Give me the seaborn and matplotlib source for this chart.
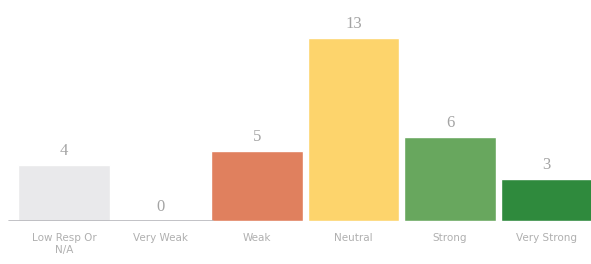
import pandas as pd
import seaborn as sns
import matplotlib.pyplot as plt

categories = ["Low Resp Or\nN/A", "Very Weak", "Weak", "Neutral", "Strong", "Very Strong"]
counts = [4, 0, 5, 13, 6, 3]
colors = ["#e9e9eb", "#d9d9db", "#e0805e", "#fdd46c", "#68a75e", "#2f8a3d"]

df = pd.DataFrame({"Category": categories, "Count": counts})

sns.set_style("white")
fig = plt.figure(figsize=(5.91, 2.64), dpi=100)
ax = fig.add_axes([0, 0.163, 1, 0.837])

sns.barplot(data=df, x="Category", y="Count", hue="Category", palette=colors,
            legend=False, width=0.95, ax=ax, saturation=1)

# value labels above each bar
for c in ax.containers:
    ax.bar_label(c, padding=4, color="#a4a4a4", fontsize=12, family="Liberation Serif")

ax.set_xlim(-0.663, 5.46)
ax.set_ylim(0, 15.7)
ax.axhline(0, xmin=0.015, xmax=0.36, color="#b8b8bc", lw=1.2)
sns.despine(ax=ax, left=True, bottom=True)
ax.set_yticks([])
ax.set_xlabel("")
ax.set_ylabel("")
ax.tick_params(axis="x", length=0, pad=9, labelsize=7.5, labelcolor="#b0b0b0")

fig.savefig("out.png", dpi=100)
